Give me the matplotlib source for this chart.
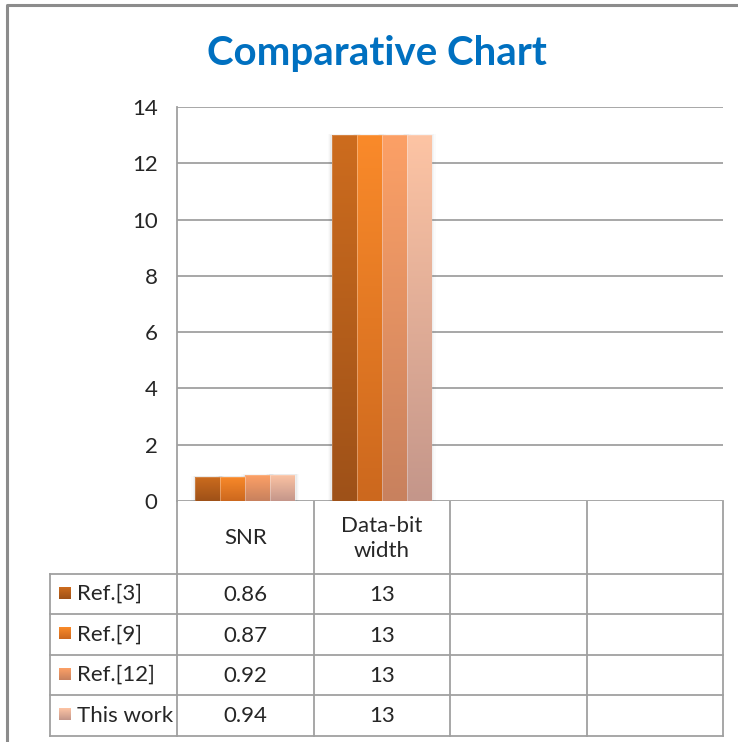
import numpy as np
import matplotlib
matplotlib.use("Agg")
import matplotlib.pyplot as plt
from matplotlib.colors import LinearSegmentedColormap
from matplotlib.patches import Rectangle

plt.rcParams['font.family'] = ['Lato', 'DejaVu Sans']

# ---- data ----
categories = ["SNR", "Data-bit\nwidth", "", ""]
series_names = ["Ref.[3]", "Ref.[9]", "Ref.[12]", "This work"]
snr_values = [0.86, 0.87, 0.92, 0.94]
bitwidth_values = [13, 13, 13, 13]
y_ticks = [0, 2, 4, 6, 8, 10, 12, 14]
title = "Comparative Chart"

# gradient colours per series: (top, bottom)
series_colors = [("#CD6C1E", "#9E5118"),
                 ("#FA8A2A", "#CC681E"),
                 ("#FCA066", "#C8815E"),
                 ("#FDC4A4", "#C4968A")]

values = np.array([snr_values, bitwidth_values, [np.nan] * 4, [np.nan] * 4])  # [category, series]

W, H = 738, 742
fig = plt.figure(figsize=(W / 100, H / 100), dpi=100)
fig.patch.set_facecolor("white")

def fx(px):
    return px / W

def fy(py):
    return 1 - py / H

# outer chart frame
frame = fig.add_axes([0, 0, 1, 1])
frame.set_xlim(0, W)
frame.set_ylim(H, 0)
frame.axis("off")
frame.plot([7, 7, W + 5], [H + 5, 5, 5], color="#8C8C8C", lw=2.2, solid_capstyle="butt")

fig.text(fx(377), fy(53), title, ha="center", va="center", fontsize=29,
         fontweight="bold", color="#0070C0")

# ---- plot area ----
x0, x1, ytop, ybot = 177, 723, 107, 501
ax = fig.add_axes([fx(x0), fy(ybot), fx(x1 - x0), (ybot - ytop) / H])
ax.set_xlim(-0.5, len(categories) - 0.5)
ax.set_ylim(y_ticks[0], y_ticks[-1])
ax.set_yticks(y_ticks)
ax.set_yticklabels([str(t) for t in y_ticks], fontsize=16, color="#262626")
ax.tick_params(axis="y", length=0, pad=14)
ax.set_xticks([])
for s in ["top", "right", "bottom"]:
    ax.spines[s].set_visible(False)
ax.spines["left"].set_color("#A0A0A0")
ax.spines["left"].set_linewidth(1.3)
ax.yaxis.grid(True, color="#A0A0A0", lw=1.3)
ax.set_axisbelow(True)

bar_w = 0.183
n = len(series_names)
for ci in range(len(categories)):
    for si in range(n):
        v = values[ci, si]
        if np.isnan(v):
            continue
        xc = ci + (si - (n - 1) / 2) * bar_w
        left = xc - bar_w / 2
        # soft shadow on the group edges
        for k, a in enumerate([0.04, 0.025, 0.015]):
            d = 0.01 * (k + 1)
            ax.add_patch(Rectangle((left - d, 0), bar_w + 2 * d, v + d * 1.2,
                                   facecolor="black", alpha=a, lw=0, zorder=2))
        bar = ax.bar(xc, v, width=bar_w, color="none", lw=0, zorder=3)[0]
        top_c, bot_c = series_colors[si]
        cmap = LinearSegmentedColormap.from_list(f"g{si}", [bot_c, top_c])
        grad = np.linspace(0, 1, 256).reshape(-1, 1)
        im = ax.imshow(grad, cmap=cmap, aspect="auto", origin="lower",
                       extent=[left, left + bar_w, 0, v], zorder=4)
        im.set_clip_path(bar)
        ax.add_patch(Rectangle((left, 0), bar_w, v, facecolor="none",
                               edgecolor=(1, 1, 1, 0.2), lw=0.6, zorder=5))
ax.set_xlim(-0.5, len(categories) - 0.5)
ax.set_ylim(y_ticks[0], y_ticks[-1])

# ---- data table ----
tb = frame
col_edges = np.linspace(x0, x1, len(categories) + 1)
legend_left = 50
row_edges = [ybot, 574, 614, 655, 695, 736]
lc = "#A0A0A0"
lw = 1.3
for xe in col_edges:
    tb.plot([xe, xe], [ybot, row_edges[-1]], color=lc, lw=lw)
tb.plot([legend_left, legend_left], [row_edges[1], row_edges[-1]], color=lc, lw=lw)
for ye in row_edges[1:]:
    tb.plot([legend_left, x1], [ye, ye], color=lc, lw=lw)

txt_color = "#262626"
for ci, cat in enumerate(categories):
    cx = (col_edges[ci] + col_edges[ci + 1]) / 2
    if cat:
        tb.text(cx, (row_edges[0] + row_edges[1]) / 2 + 1, cat, ha="center", va="center",
                fontsize=16, color=txt_color, linespacing=1.3)
for si, name in enumerate(series_names):
    ry = (row_edges[si + 1] + row_edges[si + 2]) / 2
    top_c, bot_c = series_colors[si]
    sq = 12
    cmap = LinearSegmentedColormap.from_list(f"k{si}", [bot_c, top_c])
    tb.imshow(np.linspace(0, 1, 32).reshape(-1, 1), cmap=cmap, aspect="auto",
              origin="lower", extent=[59, 59 + sq, ry + sq / 2 - 1, ry - sq / 2 - 1], zorder=3)
    tb.text(77, ry, name, ha="left", va="center", fontsize=16, color=txt_color)
    for ci in range(len(categories)):
        v = values[ci, si]
        if np.isnan(v):
            continue
        cx = (col_edges[ci] + col_edges[ci + 1]) / 2
        tb.text(cx, ry + 1, f"{v:g}", ha="center", va="center", fontsize=16, color=txt_color)
tb.set_xlim(0, W)
tb.set_ylim(H, 0)

fig.savefig("out.png", dpi=100, facecolor="white")
